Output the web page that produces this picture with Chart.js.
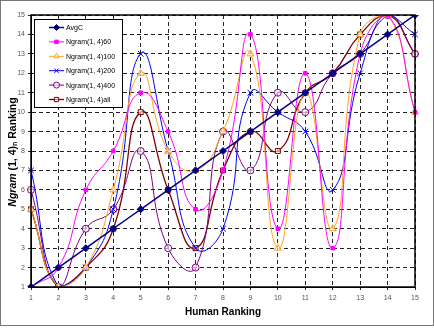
<!DOCTYPE html>
<html>
<head>
<meta charset="utf-8">
<script src="https://cdn.jsdelivr.net/npm/chart.js@4.4.1/dist/chart.umd.min.js"></script>
<style>
  body { margin: 0; background: #fff; }
  #wrap { position: relative; width: 434px; height: 332px; }
  #frame { position: absolute; left: 0; top: 0; width: 432px; height: 324px; border: 1px solid #777; pointer-events: none; }
</style>
</head>
<body>
<div id="wrap">
  <canvas id="rankChart" width="434" height="332"></canvas>
  <div id="frame"></div>
</div>
<script>
const humanRanking = ['1','2','3','4','5','6','7','8','9','10','11','12','13','14','15'];
const avgC      = [1, 2, 3, 4, 5, 6, 7, 8, 9, 10, 11, 12, 13, 14, 15];
const ngram60   = [1, 2, 6, 8, 11, 9, 5, 7, 14, 4, 12, 3, 13, 15, 10];
const ngram100  = [5, 1, 2, 6, 12, 8, 7, 9, 13, 3, 11, 4, 14, 15, 10];
const ngram200  = [7, 1, 2, 5, 13, 8, 3, 4, 11, 10, 9, 6, 12, 15, 14];
const ngram400  = [6, 1, 4, 5, 8, 3, 2, 9, 7, 11, 10, 12, 13, 15, 13];
const ngramAll  = [5, 1, 2, 4, 10, 6, 3, 7, 9, 8, 11, 12, 14, 15, 13];

const ctx = document.getElementById('rankChart');
const fontFam = '"Liberation Sans", Arial, sans-serif';

function series(label, data, color, style, radius, fill, width) {
  return {
    label: label,
    data: data,
    borderColor: color,
    backgroundColor: color,
    borderWidth: width,
    tension: 0.5,
    pointStyle: style,
    pointRadius: radius,
    pointBackgroundColor: fill,
    pointBorderColor: color,
    pointBorderWidth: 1,
    fill: false
  };
}

// legend box drawn inside the plot, like the original
const insideLegend = {
  id: 'insideLegend',
  afterDraw(chart) {
    const c = chart.ctx;
    const x0 = 34, y0 = 19, w = 88, h = 88;
    c.save();
    c.fillStyle = '#fff';
    c.fillRect(x0, y0, w, h);
    c.strokeStyle = '#000';
    c.lineWidth = 1;
    c.strokeRect(x0 + 0.5, y0 + 0.5, w, h);
    c.font = '7px ' + fontFam;
    c.textBaseline = 'middle';
    chart.data.datasets.forEach((ds, i) => {
      const y = 27.5 + i * 14.4;
      c.strokeStyle = ds.borderColor;
      c.lineWidth = ds.borderWidth;
      c.beginPath();
      c.moveTo(49, y);
      c.lineTo(64, y);
      c.stroke();
      c.fillStyle = ds.pointBackgroundColor;
      c.lineWidth = 1;
      Chart.helpers.drawPoint(c, {
        pointStyle: ds.pointStyle,
        radius: Math.min(ds.pointRadius, 3),
        rotation: 0,
        borderWidth: 1
      }, 56.5, y);
      c.fillStyle = '#000';
      c.fillText(ds.label, 66, y + 0.5);
    });
    c.restore();
  }
};

// axis titles and plot frame
const titles = {
  id: 'titles',
  afterDraw(chart) {
    const c = chart.ctx;
    const a = chart.chartArea;
    c.save();
    c.strokeStyle = '#000';
    c.lineWidth = 1.5;
    c.strokeRect(a.left, a.top, a.right - a.left, a.bottom - a.top);

    c.fillStyle = '#000';
    c.font = 'bold 10px ' + fontFam;
    c.textAlign = 'center';
    c.textBaseline = 'middle';
    c.fillText('Human Ranking', 223, 312);

    const parts = [
      { t: 'Ngram', f: 'italic bold 10.5px ' + fontFam, dy: 0 },
      { t: ' (1, 4)', f: 'bold 10.5px ' + fontFam, dy: 0 },
      { t: 'n', f: 'bold 7px ' + fontFam, dy: 2.5 },
      { t: ' Ranking', f: 'bold 10.5px ' + fontFam, dy: 0 }
    ];
    let total = 0;
    parts.forEach(p => { c.font = p.f; p.w = c.measureText(p.t).width; total += p.w; });
    c.translate(13, 152);
    c.rotate(-Math.PI / 2);
    c.textAlign = 'left';
    let x = -total / 2;
    parts.forEach(p => { c.font = p.f; c.fillText(p.t, x, p.dy); x += p.w; });
    c.restore();
  }
};

new Chart(ctx, {
  type: 'line',
  data: {
    labels: humanRanking,
    datasets: [
      series('AvgC', avgC, '#000080', 'rectRot', 3.5, '#000080', 1.5),
      series('Ngram(1, 4)60', ngram60, '#ff00ff', 'rect', 2.5, '#ff00ff', 1),
      series('Ngram(1, 4)100', ngram100, '#ffa31a', 'triangle', 4, 'rgba(255,255,255,0.6)', 1),
      series('Ngram(1, 4)200', ngram200, '#0000ff', 'crossRot', 4, '#0000ff', 1),
      series('Ngram(1, 4)400', ngram400, '#800080', 'circle', 3.5, 'rgba(255,255,255,0.6)', 1),
      series('Ngram(1, 4)all', ngramAll, '#800000', 'rect', 3.5, 'rgba(255,255,255,0.6)', 1.3)
    ]
  },
  options: {
    responsive: false,
    animation: false,
    layout: { padding: { left: 0, top: 15, right: 19, bottom: 0 } },
    plugins: {
      legend: { display: false },
      tooltip: { enabled: false }
    },
    scales: {
      x: {
        offset: false,
        afterFit: s => { s.height = 45; },
        grid: { color: '#222', lineWidth: 1, tickLength: 3, borderDash: [4, 3], tickBorderDash: [] },
        border: { dash: [4, 3], color: '#000' },
        ticks: { color: '#555', font: { size: 7, family: fontFam }, padding: 4, maxRotation: 0, autoSkip: false }
      },
      y: {
        min: 1,
        max: 15,
        afterFit: s => { s.width = 31; },
        grid: { color: '#222', lineWidth: 1, tickLength: 3, borderDash: [4, 3], tickBorderDash: [] },
        border: { dash: [4, 3], color: '#000' },
        ticks: { stepSize: 1, color: '#555', font: { size: 7, family: fontFam }, padding: 3 }
      }
    }
  },
  plugins: [insideLegend, titles]
});
</script>
</body>
</html>
